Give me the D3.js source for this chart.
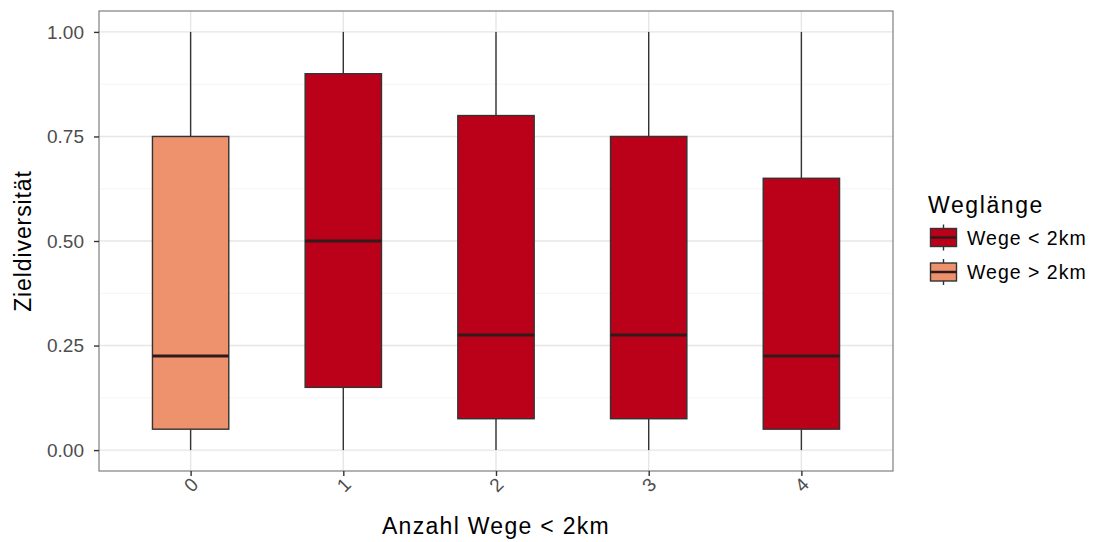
<!DOCTYPE html>
<html><head><meta charset="utf-8">
<script src="https://cdn.jsdelivr.net/npm/d3@7"></script>
<style>body{margin:0;background:#fff}svg{display:block}text{font-family:"Liberation Sans",Arial,sans-serif}</style>
</head><body><svg id="c" width="1099" height="542"></svg>
<script>
const categories = ["0","1","2","3","4"];
const groups = ["Wege > 2km","Wege < 2km","Wege < 2km","Wege < 2km","Wege < 2km"];
const mins = [0,0,0,0,0];
const q1s = [0.05,0.15,0.075,0.075,0.05];
const medians = [0.225,0.5,0.275,0.275,0.225];
const q3s = [0.75,0.9,0.8,0.75,0.65];
const maxs = [1,1,1,1,1];
const yTicks = [0,0.25,0.5,0.75,1];
const yMinor = [0.125,0.375,0.625,0.875];
const legendLabels = ["Wege < 2km","Wege > 2km"];
const colors = {"Wege < 2km":"#bb0019","Wege > 2km":"#ee916d"};

const data = categories.map((c,i)=>({c,g:groups[i],min:mins[i],q1:q1s[i],med:medians[i],q3:q3s[i],max:maxs[i]}));
const svg = d3.select("#c");
const L=99,R=893,T=11,B=471;
const x = d3.scalePoint().domain(categories).range([L,R]).padding(0.6);
const step = x.step();
const y = d3.scaleLinear().domain([-0.05,1.05]).range([B,T]);

// grid
svg.append("g").selectAll("line").data(yMinor).join("line")
  .attr("x1",L).attr("x2",R).attr("y1",d=>y(d)).attr("y2",d=>y(d))
  .attr("stroke","#f2f2f2").attr("stroke-width",0.8);
svg.append("g").selectAll("line").data(yTicks).join("line")
  .attr("x1",L).attr("x2",R).attr("y1",d=>y(d)).attr("y2",d=>y(d))
  .attr("stroke","#e6e6e6").attr("stroke-width",1.4);
svg.append("g").selectAll("line").data(categories).join("line")
  .attr("x1",d=>x(d)).attr("x2",d=>x(d)).attr("y1",T).attr("y2",B)
  .attr("stroke","#e6e6e6").attr("stroke-width",1.4);

const bw = step*0.5;
const bx = svg.append("g").selectAll("g").data(data).join("g");
bx.append("line").attr("x1",d=>x(d.c)).attr("x2",d=>x(d.c))
  .attr("y1",d=>y(d.max)).attr("y2",d=>y(d.q3)).attr("stroke","#333").attr("stroke-width",1.4);
bx.append("line").attr("x1",d=>x(d.c)).attr("x2",d=>x(d.c))
  .attr("y1",d=>y(d.q1)).attr("y2",d=>y(d.min)).attr("stroke","#333").attr("stroke-width",1.4);
bx.append("rect").attr("x",d=>x(d.c)-bw/2).attr("width",bw)
  .attr("y",d=>y(d.q3)).attr("height",d=>y(d.q1)-y(d.q3))
  .attr("fill",d=>colors[d.g]).attr("stroke","#333").attr("stroke-width",1.4);
bx.append("line").attr("x1",d=>x(d.c)-bw/2).attr("x2",d=>x(d.c)+bw/2)
  .attr("y1",d=>y(d.med)).attr("y2",d=>y(d.med)).attr("stroke","#331a1a").attr("stroke-width",3);

// border
svg.append("rect").attr("x",L).attr("y",T).attr("width",R-L).attr("height",B-T)
  .attr("fill","none").attr("stroke","#7f7f7f").attr("stroke-width",1.2);

// y axis
const ya = svg.append("g").attr("transform",`translate(${L},0)`)
  .call(d3.axisLeft(y).tickValues(yTicks).tickFormat(d3.format(".2f")).tickSize(4).tickPadding(11));
ya.select(".domain").remove();
ya.selectAll(".tick line").attr("stroke","#333").attr("stroke-width",1.4).attr("x1",-5).attr("x2",0);
ya.selectAll(".tick text").attr("fill","#4d4d4d").style("font-size","19px").style("font-family","Liberation Sans, Arial, sans-serif");

// x axis
const xa = svg.append("g").attr("transform",`translate(0,${B})`)
  .call(d3.axisBottom(x).tickSize(5).tickPadding(0));
xa.select(".domain").remove();
xa.selectAll(".tick line").attr("stroke","#333").attr("stroke-width",1.4);
xa.selectAll(".tick text").attr("fill","#4d4d4d").style("font-size","19px")
  .style("font-family","Liberation Sans, Arial, sans-serif")
  .attr("y",0).attr("dy",0).attr("text-anchor","middle").attr("dominant-baseline","central")
  .attr("transform","translate(0,14) rotate(-45)");

svg.append("text").attr("x",(L+R)/2).attr("y",534).attr("text-anchor","middle")
  .style("font-size","23px").style("letter-spacing","1.3px").attr("fill","#000").text("Anzahl Wege < 2km");
svg.append("text").attr("transform",`translate(31,${(T+B)/2}) rotate(-90)`).attr("text-anchor","middle")
  .style("font-size","23px").style("letter-spacing","0.9px").attr("fill","#000").text("Zieldiversität");

// legend
const lg = svg.append("g");
lg.append("text").attr("x",928).attr("y",213).style("font-size","23px").style("letter-spacing","1.6px").text("Weglänge");
const items = lg.selectAll("g").data(legendLabels).join("g")
  .attr("transform",(d,i)=>`translate(930,${237.5+i*34.5})`);
items.append("line").attr("x1",13.5).attr("x2",13.5).attr("y1",-13).attr("y2",13).attr("stroke","#333").attr("stroke-width",1.4);
items.append("rect").attr("x",0.5).attr("y",-9).attr("width",26).attr("height",18)
  .attr("fill",d=>colors[d]).attr("stroke","#333").attr("stroke-width",1.4);
items.append("line").attr("x1",0.5).attr("x2",26.5).attr("y1",0).attr("y2",0).attr("stroke","#331a1a").attr("stroke-width",2.5);
items.append("text").attr("x",37).attr("y",0).attr("dominant-baseline","central")
  .style("font-size","19.5px").style("letter-spacing","1px").text(d=>d);
</script></body></html>
